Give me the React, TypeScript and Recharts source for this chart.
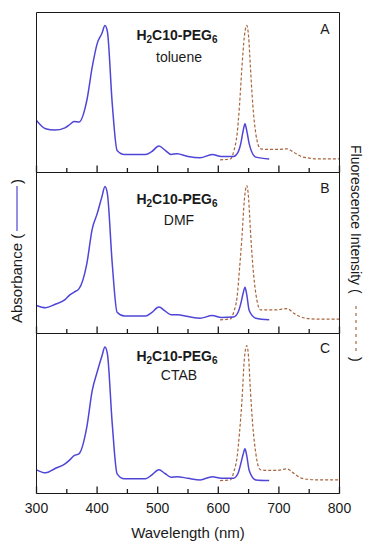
import { LineChart, Line, XAxis, YAxis, ReferenceLine } from 'recharts'

const FONT = 'Arial, "Liberation Sans", sans-serif'
const BLUE = '#4f45d6'
const BROWN = '#a8653c'
const INK = '#1a1a1a'

const majorTicks = [300, 400, 500, 600, 700, 800]
const minorTicks = [350, 450, 550, 650, 750]

// absorbance samples (nm) and heights as % of panel height
const absWl = [300, 315, 330, 347, 355, 362, 370, 383, 392, 400, 408, 413, 417, 425, 433, 445, 480, 490, 502, 512, 522, 532, 550, 570, 590, 605, 625, 633, 637, 641, 644, 647, 651, 662, 684]
const absA = [32.5, 27.3, 26.5, 27.9, 30, 31.9, 31.5, 45, 66, 80.4, 87, 91.9, 88, 43, 13.8, 11.3, 11.3, 13, 16.5, 14, 11.3, 11.7, 10, 9.2, 11.3, 10, 10, 13, 17.9, 26, 30.4, 26, 17.9, 9.6, 8.5]
const absB = [17.4, 16, 18, 21, 24, 25.7, 27.7, 43.3, 65, 74.3, 85, 91.3, 86.8, 43.3, 13.2, 10.8, 10.8, 13, 16.4, 14, 11.6, 11.6, 10.5, 9.5, 11.2, 10, 10.2, 13.5, 18.4, 25, 28.8, 24, 14.3, 9.5, 8.5]
const absC = [14.8, 12.9, 15.5, 18.5, 21, 23.7, 24.8, 41.5, 64.4, 75.8, 86, 91.5, 87.3, 43.5, 12.3, 9.2, 9.2, 11.5, 14.8, 12.5, 10.2, 10.5, 9.5, 8.5, 10.5, 9.5, 9.6, 13, 18.5, 24.5, 27.9, 23.5, 14.4, 8.5, 8.1]

// fluorescence samples
const flWl = [603, 620, 626, 631, 635, 639, 643, 647, 650, 653, 657, 662, 666, 670, 685, 698, 713, 725, 737, 750, 764, 800]
const flA = [7.9, 8.5, 14, 24, 42, 65.8, 85, 91.9, 85, 65.8, 42, 24, 17, 14.8, 14.4, 14.4, 14.8, 12.5, 10, 9, 8.5, 8.5]
const flB = [8.5, 9.1, 14, 22.6, 40, 59.8, 83, 91.9, 84, 64, 42, 24.6, 17, 14.7, 14.7, 14.7, 15.5, 12.5, 10.2, 9.2, 8.9, 8.9]
const flC = [8.1, 8.5, 14, 22.7, 38, 58, 84, 92.5, 85, 64.4, 42, 24.8, 17, 14.8, 14.4, 14.4, 15.4, 12.5, 9.6, 8.8, 8.5, 8.5]

const toRows = (xs: number[], ys: number[]) => xs.map((wl, i) => ({ wl, v: ys[i] }))

const FRAME = { stroke: INK, strokeWidth: 1 }

function TickLabel(props: any) {
  const { x, y, payload, showLabel } = props
  if (!showLabel) return <g />
  return (
    <text x={x} y={y + 19} textAnchor="middle" fontSize={14} fontFamily={FONT} fill={INK}>
      {payload.value}
    </text>
  )
}

type PanelProps = {
  top: number
  plotH: number
  abs: number[]
  fl: number[]
  last?: boolean
}

function Panel({ top, plotH, abs, fl, last }: PanelProps) {
  // axes need a non-zero size or recharts skips drawing them
  const axisH = last ? 45 : 1
  // inward tick marks as short segments, length in % of the panel height
  const majorLen = (7 / plotH) * 100
  const minorLen = (4.5 / plotH) * 100
  return (
    <div style={{ position: 'absolute', left: 0, top: top - 1 }}>
      <LineChart width={375} height={1.5 + plotH + axisH} margin={{ top: 0.5, right: 34.5, bottom: 0, left: 35.5 }}>
        <XAxis
          type="number" dataKey="wl" domain={[300, 800]} ticks={majorTicks} interval={0}
          allowDataOverflow axisLine={FRAME} tickLine={false} tickSize={0} tickMargin={0}
          height={axisH}
          tick={(p: any) => <TickLabel {...p} showLabel={last} />}
        />
        <XAxis
          xAxisId="top" orientation="top" type="number" domain={[300, 800]} ticks={[300, 800]}
          axisLine={FRAME} tickLine={false} tick={false} height={1}
        />
        <YAxis yAxisId="abs" domain={[0, 100]} width={1} axisLine={FRAME} tickLine={false} tick={false} />
        <YAxis yAxisId="fl" orientation="right" domain={[0, 100]} width={1} axisLine={FRAME} tickLine={false} tick={false} />
        {majorTicks.map((t) => (
          <ReferenceLine key={`M${t}`} yAxisId="abs" segment={[{ x: t, y: 0 }, { x: t, y: majorLen }]} stroke={INK} strokeWidth={1.3} ifOverflow="visible" />
        ))}
        {minorTicks.map((t) => (
          <ReferenceLine key={`m${t}`} yAxisId="abs" segment={[{ x: t, y: 0 }, { x: t, y: minorLen }]} stroke={INK} strokeWidth={1.3} ifOverflow="visible" />
        ))}
        <Line
          yAxisId="fl" data={toRows(flWl, fl)} dataKey="v" type="monotone"
          stroke={BROWN} strokeWidth={1.2} strokeDasharray="3 2" dot={false} isAnimationActive={false}
        />
        <Line
          yAxisId="abs" data={toRows(absWl, abs)} dataKey="v" type="monotone"
          stroke={BLUE} strokeWidth={1.5} dot={false} isAnimationActive={false}
        />
      </LineChart>
    </div>
  )
}

function Title({ y, solvent, solventY, letter, letterY }: { y: number; solvent: string; solventY: number; letter: string; letterY: number }) {
  return (
    <g fontFamily={FONT} fill={INK}>
      <text x={177} y={y} textAnchor="middle" fontSize={14} fontWeight="bold">
        H<tspan fontSize={10} dy={3}>2</tspan>
        <tspan dy={-3}>C10-PEG</tspan>
        <tspan fontSize={10} dy={3}>6</tspan>
      </text>
      <text x={179} y={solventY} textAnchor="middle" fontSize={14}>{solvent}</text>
      <text x={325} y={letterY} textAnchor="middle" fontSize={14}>{letter}</text>
    </g>
  )
}

export default function App() {
  return (
    <div style={{ position: 'absolute', left: 0, top: 0, width: 375, height: 550, background: '#fff' }}>
      <Panel top={12} plotH={160} abs={absA} fl={flA} />
      <Panel top={172} plotH={161} abs={absB} fl={flB} />
      <Panel top={333} plotH={160} abs={absC} fl={flC} last />
      <svg width={375} height={550} style={{ position: 'absolute', left: 0, top: 0, pointerEvents: 'none' }}>
        <Title y={40} solvent="toluene" solventY={62} letter="A" letterY={34} />
        <Title y={204} solvent="DMF" solventY={225} letter="B" letterY={193} />
        <Title y={361} solvent="CTAB" solventY={380} letter="C" letterY={353} />
        <g fontFamily={FONT} fill={INK}>
          <text x={188} y={538} textAnchor="middle" fontSize={15}>Wavelength (nm)</text>
          <text x={22} y={323} fontSize={15} transform="rotate(-90 22 323)">Absorbance (</text>
          <line x1={17} x2={17} y1={231} y2={186} stroke={BLUE} strokeWidth={1.2} />
          <text x={22} y={184} fontSize={15} transform="rotate(-90 22 184)">)</text>
          <text x={351} y={145} fontSize={14} transform="rotate(90 351 145)">Fluorescence Intensity (</text>
          <line x1={356} x2={356} y1={306} y2={354} stroke={BROWN} strokeWidth={1.2} strokeDasharray="3 4" />
          <text x={351} y={357} fontSize={14} transform="rotate(90 351 357)">)</text>
        </g>
      </svg>
    </div>
  )
}
